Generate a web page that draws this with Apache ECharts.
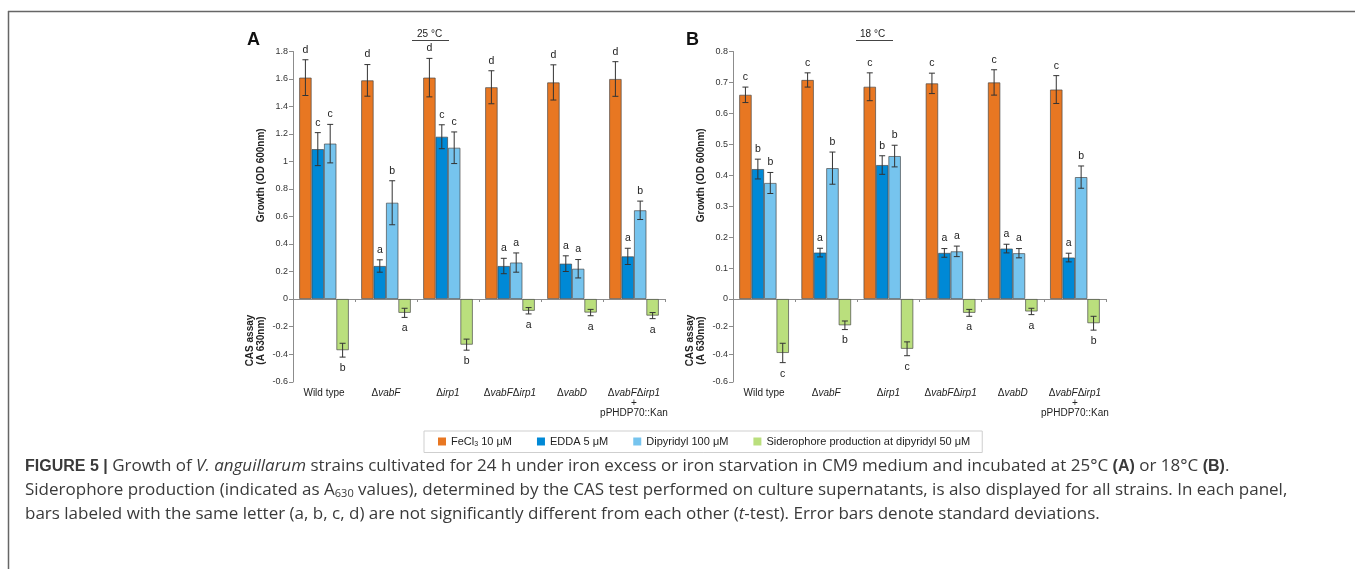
<!DOCTYPE html>
<html>
<head>
<meta charset="utf-8">
<script src="https://cdn.jsdelivr.net/npm/echarts@6/dist/echarts.min.js"></script>
<style>
  html, body { margin: 0; padding: 0; background: #fff; }
  #chart { width: 1355px; height: 569px; }
</style>
</head>
<body>
<div id="chart"></div>
<script>
// strains on the x axis
const categories = ['Wild type', 'ΔvabF', 'Δirp1', 'ΔvabFΔirp1', 'ΔvabD', 'ΔvabFΔirp1+pPHDP70::Kan'];
const seriesNames = ['FeCl3 10 μM', 'EDDA 5 μM', 'Dipyridyl 100 μM', 'Siderophore production at dipyridyl 50 μM'];

// panel A, 25 °C
const a_fecl = [1.61, 1.59, 1.61, 1.54, 1.575, 1.60];
const a_fecl_sd = [0.13, 0.115, 0.14, 0.12, 0.128, 0.126];
const a_edda = [1.09, 0.24, 1.18, 0.24, 0.257, 0.31];
const a_edda_sd = [0.12, 0.045, 0.087, 0.056, 0.057, 0.059];
const a_dip = [1.13, 0.70, 1.10, 0.265, 0.22, 0.645];
const a_dip_sd = [0.14, 0.16, 0.115, 0.07, 0.067, 0.067];
const a_cas = [-0.37, -0.10, -0.33, -0.085, -0.098, -0.12];
const a_cas_sd = [0.05, 0.033, 0.04, 0.023, 0.023, 0.022];
const a_fecl_let = ['d', 'd', 'd', 'd', 'd', 'd'];
const a_edda_let = ['c', 'a', 'c', 'a', 'a', 'a'];
const a_dip_let = ['c', 'b', 'c', 'a', 'a', 'b'];
const a_cas_let = ['b', 'a', 'b', 'a', 'a', 'a'];

// panel B, 18 °C
const b_fecl = [0.66, 0.708, 0.686, 0.697, 0.70, 0.677];
const b_fecl_sd = [0.025, 0.023, 0.045, 0.033, 0.041, 0.045];
const b_edda = [0.42, 0.15, 0.433, 0.149, 0.163, 0.134];
const b_edda_sd = [0.032, 0.014, 0.03, 0.014, 0.014, 0.014];
const b_dip = [0.375, 0.423, 0.462, 0.154, 0.148, 0.394];
const b_dip_sd = [0.034, 0.052, 0.035, 0.017, 0.015, 0.036];
const b_cas = [-0.39, -0.19, -0.36, -0.10, -0.09, -0.175];
const b_cas_sd = [0.07, 0.031, 0.05, 0.025, 0.023, 0.05];
const b_fecl_let = ['c', 'c', 'c', 'c', 'c', 'c'];
const b_edda_let = ['b', 'a', 'b', 'a', 'a', 'a'];
const b_dip_let = ['b', 'b', 'b', 'a', 'a', 'b'];
const b_cas_let = ['c', 'b', 'c', 'a', 'a', 'b'];

// y ticks
const growthMaxA = 1.8, growthStepA = 0.2;
const growthMaxB = 0.8, growthStepB = 0.1;
const casMin = -0.6, casStep = 0.2;

const colors = ['#E87722', '#0089D6', '#76C4EE', '#BADF7D'];
const FONT = 'Liberation Sans, Arial, sans-serif';
const CAPFONT = 'Open Sans, Liberation Sans, sans-serif';

const chart = echarts.init(document.getElementById('chart'));

const grids = [
  { left: 293, top: 51.5, width: 372, height: 247.5 },
  { left: 293, top: 299, width: 372, height: 83 },
  { left: 733, top: 51.5, width: 373, height: 247.5 },
  { left: 733, top: 299, width: 373, height: 83 }
];

// italic strain names
function catLabel (v) {
  const part = s => s.split('Δ').filter(x => x).map(x => '{n|Δ}{i|' + x + '}').join('')
  if (v === 'Wild type') return '{n|Wild type}'
  if (v.indexOf('+') > 0) {
    const bits = v.split('+')
    return part(bits[0]) + '\n{n|+}\n{n|' + bits[1] + '}'
  }
  return part(v)
}

const axisColor = '#8c8c8c'
const xAxes = [0, 1, 2, 3].map(g => {
  const top = g % 2 === 0
  return {
    type: 'category',
    gridIndex: g,
    data: categories,
    axisLine: { show: top, lineStyle: { color: axisColor, width: 1 } },
    axisTick: { show: top, length: 3, lineStyle: { color: axisColor } },
    axisLabel: {
      show: !top,
      margin: 6,
      interval: 0,
      formatter: catLabel,
      rich: {
        n: { fontSize: 10, color: '#222', fontFamily: FONT, lineHeight: 10 },
        i: { fontSize: 10, color: '#222', fontFamily: FONT, fontStyle: 'italic', lineHeight: 10 }
      }
    }
  }
})

function yAxis (g, min, max, step, name, showMax) {
  return {
    type: 'value',
    gridIndex: g,
    min: min,
    max: max,
    interval: step,
    name: name,
    nameLocation: 'middle',
    nameGap: 26,
    nameTextStyle: { fontSize: 10, fontWeight: 'bold', color: '#222', fontFamily: FONT, lineHeight: 11 },
    axisLine: { show: true, lineStyle: { color: axisColor } },
    axisTick: { show: true, length: 4, lineStyle: { color: axisColor } },
    splitLine: { show: false },
    axisLabel: { fontSize: 9, color: '#333', fontFamily: FONT, margin: 5, showMaxLabel: showMax }
  }
}

const yAxes = [
  yAxis(0, 0, growthMaxA, growthStepA, 'Growth (OD 600nm)', true),
  yAxis(1, casMin, 0, casStep, 'CAS assay\n(A 630nm)', false),
  yAxis(2, 0, growthMaxB, growthStepB, 'Growth (OD 600nm)', true),
  yAxis(3, casMin, 0, casStep, 'CAS assay\n(A 630nm)', false)
]

function bar (g, slot, data) {
  return {
    type: 'bar',
    name: seriesNames[slot],
    xAxisIndex: g,
    yAxisIndex: g,
    data: data,
    barGap: '0%',
    barCategoryGap: '20%',
    itemStyle: { color: colors[slot], borderColor: 'rgba(70,70,70,0.85)', borderWidth: 0.8 },
    silent: true
  }
}

function errSeries (g, rows) {
  // rows: [slot, values, sds, letters]
  const data = []
  const lets = []
  rows.forEach(r => {
    r[1].forEach((v, i) => {
      data.push([i, v, r[2][i], r[0]])
      lets.push(r[3][i])
    })
  })
  return {
    type: 'custom',
    xAxisIndex: g,
    yAxisIndex: g,
    data: data,
    silent: true,
    z: 5,
    renderItem: function (params, api) {
      const cat = api.value(0), v = api.value(1), sd = api.value(2), slot = api.value(3)
      const band = api.size([1, 0])[0]
      const bw = band * 0.8 / 4
      const x = api.coord([cat, v])[0] + (slot - 1.5) * bw
      const hi = api.coord([cat, v + sd])[1]
      const lo = api.coord([cat, v - sd])[1]
      const cap = 3
      const st = { stroke: '#333', lineWidth: 1 }
      const neg = v < 0
      return {
        type: 'group',
        children: [
          { type: 'line', shape: { x1: x, y1: hi, x2: x, y2: lo }, style: st },
          { type: 'line', shape: { x1: x - cap, y1: hi, x2: x + cap, y2: hi }, style: st },
          { type: 'line', shape: { x1: x - cap, y1: lo, x2: x + cap, y2: lo }, style: st },
          {
            type: 'text',
            x: x,
            y: neg ? lo + 11 : hi - 10,
            style: {
              text: lets[params.dataIndex], align: 'center', verticalAlign: 'middle',
              fontSize: 10.5, fontFamily: FONT, fill: '#222'
            }
          }
        ]
      }
    }
  }
}

const series = [
  // panel A
  bar(0, 0, a_fecl), bar(0, 1, a_edda), bar(0, 2, a_dip), bar(0, 3, []),
  bar(1, 0, []), bar(1, 1, []), bar(1, 2, []), bar(1, 3, a_cas),
  errSeries(0, [[0, a_fecl, a_fecl_sd, a_fecl_let], [1, a_edda, a_edda_sd, a_edda_let], [2, a_dip, a_dip_sd, a_dip_let]]),
  errSeries(1, [[3, a_cas, a_cas_sd, a_cas_let]]),
  // panel B
  bar(2, 0, b_fecl), bar(2, 1, b_edda), bar(2, 2, b_dip), bar(2, 3, []),
  bar(3, 0, []), bar(3, 1, []), bar(3, 2, []), bar(3, 3, b_cas),
  errSeries(2, [[0, b_fecl, b_fecl_sd, b_fecl_let], [1, b_edda, b_edda_sd, b_edda_let], [2, b_dip, b_dip_sd, b_dip_let]]),
  errSeries(3, [[3, b_cas, b_cas_sd, b_cas_let]])
]

const txt = '#3a3a3a'
const capRich = {
  b: { fontSize: 16, fontWeight: 'bold', fontFamily: FONT, color: '#222' },
  i: { fontSize: 17, fontStyle: 'italic', fontFamily: CAPFONT, color: txt },
  sub: { fontSize: 11, fontFamily: CAPFONT, color: txt, verticalAlign: 'bottom', padding: [6, 0, 0, 0] }
}
function capLine (y, text) {
  return {
    type: 'text', left: 25, top: y,
    style: { text: text, rich: capRich, fontSize: 17, fontFamily: CAPFONT, fill: txt }
  }
}

const graphics = [
  // figure frame
  { type: 'line', shape: { x1: 8.5, y1: 11, x2: 8.5, y2: 569 }, style: { stroke: '#666', lineWidth: 1.5 } },
  { type: 'line', shape: { x1: 8, y1: 11.5, x2: 1355, y2: 11.5 }, style: { stroke: '#666', lineWidth: 1.5 } },
  // panel tags and temperatures
  { type: 'text', left: 247, top: 31, style: { text: 'A', fontSize: 18, fontWeight: 'bold', fontFamily: FONT, fill: '#111' } },
  { type: 'text', left: 686, top: 31, style: { text: 'B', fontSize: 18, fontWeight: 'bold', fontFamily: FONT, fill: '#111' } },
  { type: 'text', left: 417, top: 29, style: { text: '25 °C', fontSize: 10, fontFamily: FONT, fill: '#222' } },
  { type: 'line', shape: { x1: 412, y1: 40.5, x2: 449, y2: 40.5 }, style: { stroke: '#444', lineWidth: 1 } },
  { type: 'text', left: 860, top: 29, style: { text: '18 °C', fontSize: 10, fontFamily: FONT, fill: '#222' } },
  { type: 'line', shape: { x1: 856, y1: 40.5, x2: 893, y2: 40.5 }, style: { stroke: '#444', lineWidth: 1 } },
  // caption
  capLine(458, '{b|FIGURE 5 |} Growth of {i|V. anguillarum} strains cultivated for 24 h under iron excess or iron starvation in CM9 medium and incubated at 25°C {b|(A)} or 18°C {b|(B)}.'),
  capLine(482, 'Siderophore production (indicated as A{sub|630} values), determined by the CAS test performed on culture supernatants, is also displayed for all strains. In each panel,'),
  capLine(506, 'bars labeled with the same letter (a, b, c, d) are not significantly different from each other ({i|t}-test). Error bars denote standard deviations.')
]

chart.setOption({
  animation: false,
  textStyle: { fontFamily: FONT },
  legend: {
    data: seriesNames,
    left: 424,
    top: 431,
    padding: [5, 12, 5, 14],
    borderColor: '#cfcfcf',
    borderWidth: 1,
    itemWidth: 8,
    itemHeight: 8,
    itemGap: 25,
    icon: 'rect',
    itemStyle: { borderWidth: 0 },
    textStyle: {
      fontSize: 11, color: '#222', fontFamily: FONT,
      rich: { sub: { fontSize: 7, color: '#222', verticalAlign: 'bottom', padding: [5, 0, 0, 0] } }
    },
    formatter: function (name) {
      return name === seriesNames[0] ? 'FeCl{sub|3} 10 μM' : name
    }
  },
  grid: grids,
  xAxis: xAxes,
  yAxis: yAxes,
  series: series,
  graphic: graphics
})
</script>
</body>
</html>
